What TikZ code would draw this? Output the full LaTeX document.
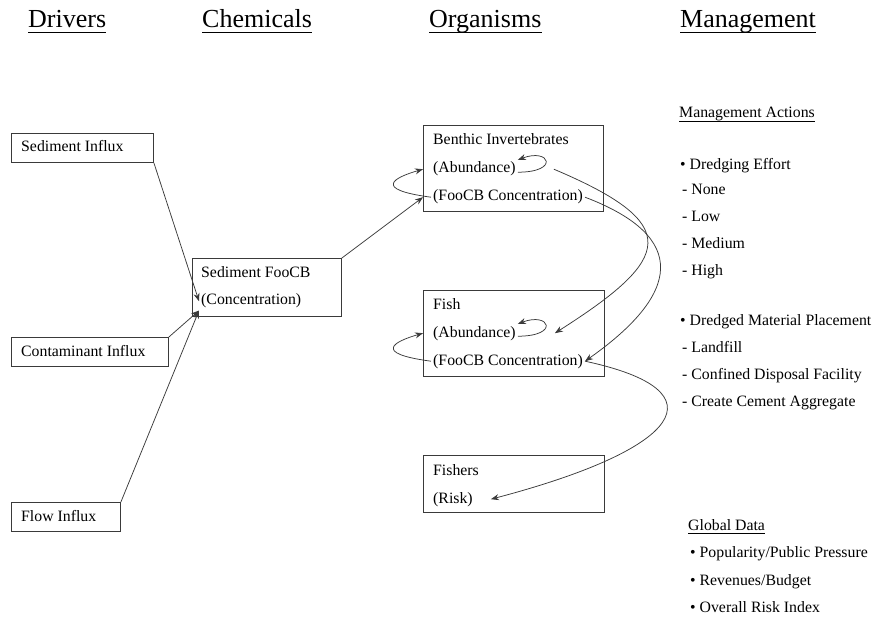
\documentclass[tikz,border=0pt]{standalone}
\usepackage{fontspec}
\setmainfont{Liberation Serif}
\usetikzlibrary{positioning, arrows.meta, calc}
\definecolor{LineGray}{HTML}{3A3A3A}

\begin{document}
\begin{tikzpicture}[x=1pt, y=-1pt, every node/.style={font=\fontsize{15.8}{18}\selectfont},
  box/.style={draw=LineGray, line width=0.9pt, anchor=north west, inner sep=0pt},
  txt/.style={anchor=base west, inner sep=2pt},
  head/.style={anchor=base west, inner sep=0pt, font=\fontsize{26}{30}\selectfont},
  uline/.style={line width=0.8pt, black},
  arr/.style={-{Stealth[length=8pt, width=6pt]}, LineGray, line width=0.75pt}
]
  \useasboundingbox (0,0) rectangle (875,620);

  % Column headers
  \foreach \name/\x/\txt in {hdrv/28/Drivers, hchem/202/Chemicals, horg/429/Organisms, hman/680/Management} {
    \node[head] (\name) at (\x,28) {\txt};
    \draw[uline] ([yshift=-4pt]\name.base west) -- ([yshift=-4pt]\name.base east);
  }

  % Drivers
  \node[box, minimum width=142, minimum height=29] (sedin) at (11,133) {};
  \node[txt] (sedint) at ($(sedin.north west)+(8,19)$) {Sediment Influx};
  \node[box, minimum width=157, minimum height=29] (contin) at (11,337) {};
  \node[txt] (contint) at ($(contin.north west)+(8,19)$) {Contaminant Influx};
  \node[box, minimum width=109, minimum height=29] (flowin) at (11,502) {};
  \node[txt] (flowint) at ($(flowin.north west)+(8,19)$) {Flow Influx};

  % Chemicals
  \node[box, minimum width=149, minimum height=58] (sedfoo) at (192,258) {};
  \node[txt] (sname) at ($(sedfoo.north west)+(7,20)$) {Sediment FooCB};
  \node[txt] (scon) at ($(sedfoo.north west)+(7,47)$) {(Concentration)};

  % Organisms
  \node[box, minimum width=180, minimum height=86] (bent) at (423,125) {};
  \node[txt] (bname) at ($(bent.north west)+(8,20)$) {Benthic Invertebrates};
  \node[txt] (bab) at ($(bent.north west)+(8,48)$) {(Abundance)};
  \node[txt] (bfc) at ($(bent.north west)+(8,76)$) {(FooCB Concentration)};

  \node[box, minimum width=181, minimum height=86] (fish) at (423,290) {};
  \node[txt] (fname) at ($(fish.north west)+(8,19)$) {Fish};
  \node[txt] (fab) at ($(fish.north west)+(8,47)$) {(Abundance)};
  \node[txt] (ffc) at ($(fish.north west)+(8,75)$) {(FooCB Concentration)};

  \node[box, minimum width=181, minimum height=57] (fishers) at (423,455) {};
  \node[txt] (frname) at ($(fishers.north west)+(8,20)$) {Fishers};
  \node[txt] (frisk) at ($(fishers.north west)+(8,48)$) {(Risk)};

  % Management
  \node[txt] (mact) at (677,118) {Management Actions};
  \draw[uline, line width=0.6pt] ([yshift=-3pt,xshift=2pt]mact.base west) -- ([yshift=-3pt,xshift=-2pt]mact.base east);
  \node[txt] (dredge) at (678,170) {\textbullet\ Dredging Effort};
  \foreach \txt [count=\i] in {None, Low, Medium, High}
    \node[txt] (eff\i) at (680,168+27*\i) {- \txt};
  \node[txt] (place) at (678,325) {\textbullet\ Dredged Material Placement};
  \foreach \txt [count=\i] in {Landfill, Confined Disposal Facility, Create Cement Aggregate}
    \node[txt] (plc\i) at (680,325+27*\i) {- \txt};

  \node[txt] (gdata) at (686,530) {Global Data};
  \draw[uline, line width=0.6pt] ([yshift=-3pt,xshift=2pt]gdata.base west) -- ([yshift=-3pt,xshift=-2pt]gdata.base east);
  \foreach \txt [count=\i] in {Popularity/Public Pressure, Revenues/Budget, Overall Risk Index}
    \node[txt] (glb\i) at (688,530+27.5*\i) {\textbullet\ \txt};

  % Drivers to sediment
  \draw[arr] (sedin.south east) -- (scon.west);
  \draw[arr] (contin.north east) -- (scon.south west);
  \draw[arr] (flowin.north east) -- (scon.south west);
  % Sediment to benthos
  \draw[arr] (sedfoo.north east) -- (bfc.west -| bent.west);
  % Benthic loops
  \draw[arr] (bfc.west) .. controls +(-60,-8) and +(-28,8) .. (bab.west -| bent.west);
  \draw[arr] ([yshift=-3pt]bab.east) .. controls +(42,0) and +(32,-12) .. (bab.north east);
  % Benthic to fish
  \draw[arr] ([xshift=36pt]bab.east) .. controls +(130,55) and +(118,-75) .. ([xshift=37pt]fab.east);
  \draw[arr] (bfc.east) .. controls +(105,40) and +(95,-67) .. (ffc.east);
  % Fish loops
  \draw[arr] (ffc.west) .. controls +(-60,-8) and +(-28,8) .. (fab.west -| fish.west);
  \draw[arr] ([yshift=-3pt]fab.east) .. controls +(42,0) and +(32,-12) .. (fab.north east);
  % Fish to fishers
  \draw[arr] (ffc.east) .. controls +(140,30) and +(190,-50) .. ([xshift=16pt]frisk.east);
\end{tikzpicture}
\end{document}
